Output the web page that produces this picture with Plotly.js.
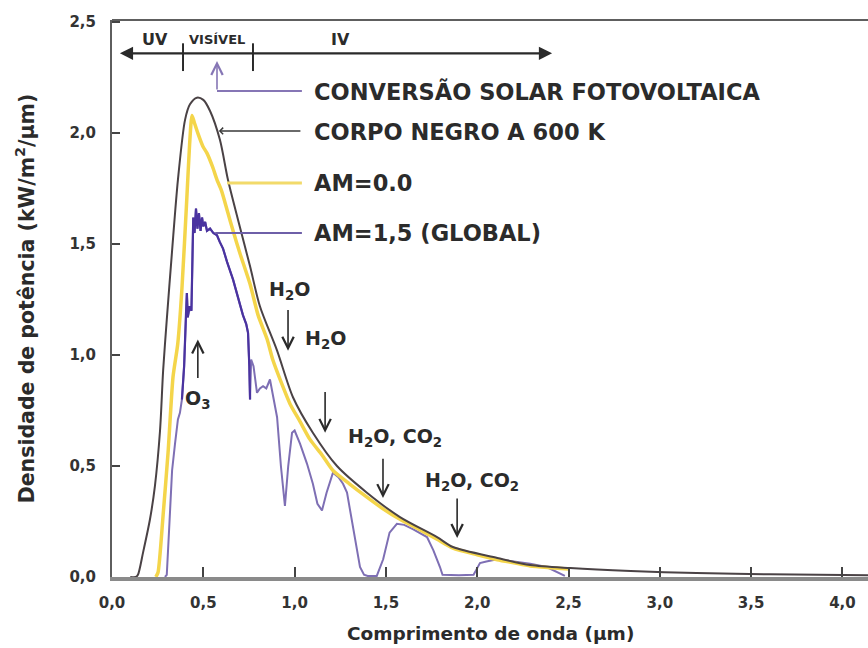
<!DOCTYPE html>
<html>
<head>
<meta charset="utf-8">
<script src="https://cdn.plot.ly/plotly-3.0.1.min.js"></script>
<style>
  html, body { margin: 0; padding: 0; background: #ffffff; }
  #chart { width: 868px; height: 648px; }
</style>
</head>
<body>
<div id="chart"></div>
<script>
// Espectro do corpo negro, AM0 e AM1,5 (kW/m²/µm) em função do comprimento de onda (µm)
const bbX = [0.10, 0.13, 0.142, 0.17, 0.208, 0.235, 0.263, 0.28, 0.30, 0.329, 0.361, 0.40, 0.427, 0.465, 0.50, 0.537, 0.591, 0.635, 0.69, 0.756, 0.81, 0.904, 0.991, 1.10, 1.232, 1.396, 1.577, 1.78, 1.867, 2.11, 2.29, 2.51, 2.84, 3.2, 3.6, 4.14];
const bbY = [0.0, 0.0, 0.01, 0.11, 0.26, 0.41, 0.66, 0.93, 1.16, 1.47, 1.79, 2.06, 2.13, 2.16, 2.15, 2.10, 1.97, 1.79, 1.61, 1.40, 1.22, 1.02, 0.81, 0.65, 0.50, 0.38, 0.27, 0.18, 0.135, 0.086, 0.054, 0.04, 0.027, 0.018, 0.012, 0.008];

const am0X = [0.24, 0.252, 0.28, 0.307, 0.334, 0.36, 0.383, 0.41, 0.425, 0.438, 0.45, 0.47, 0.498, 0.52, 0.55, 0.575, 0.60, 0.635, 0.663, 0.70, 0.756, 0.80, 0.85, 0.88, 0.93, 0.975, 1.03, 1.084, 1.15, 1.21, 1.30, 1.396, 1.48, 1.577, 1.68, 1.78, 1.867, 2.0, 2.11, 2.2, 2.29, 2.4, 2.5];
const am0Y = [0.0, 0.02, 0.28, 0.56, 0.90, 1.05, 1.30, 1.71, 1.95, 2.08, 2.05, 2.00, 1.94, 1.91, 1.85, 1.79, 1.74, 1.64, 1.56, 1.46, 1.32, 1.18, 1.07, 0.98, 0.87, 0.78, 0.70, 0.62, 0.55, 0.48, 0.42, 0.36, 0.31, 0.26, 0.215, 0.17, 0.13, 0.10, 0.078, 0.064, 0.05, 0.042, 0.036];

const am15X = [0.29, 0.30, 0.315, 0.329, 0.345, 0.361, 0.372, 0.383, 0.395, 0.405, 0.41, 0.415, 0.425, 0.435, 0.44, 0.445, 0.452, 0.46, 0.468, 0.476, 0.485, 0.493, 0.50, 0.51, 0.52, 0.537, 0.555, 0.575, 0.59, 0.608, 0.63, 0.663, 0.69, 0.717, 0.735, 0.745, 0.752, 0.756, 0.762, 0.775, 0.794, 0.81, 0.827, 0.845, 0.865, 0.885, 0.904, 0.925, 0.947, 0.965, 0.986, 1.0, 1.03, 1.068, 1.10, 1.125, 1.15, 1.175, 1.21, 1.24, 1.265, 1.287, 1.32, 1.358, 1.38, 1.40, 1.45, 1.485, 1.52, 1.56, 1.60, 1.65, 1.725, 1.76, 1.796, 1.81, 1.90, 1.98, 2.0, 2.015, 2.05, 2.11, 2.2, 2.29, 2.38, 2.44, 2.48];
const am15Y = [0.0, 0.01, 0.25, 0.48, 0.60, 0.71, 0.74, 0.80, 0.95, 1.18, 1.28, 1.17, 1.22, 1.20, 1.40, 1.62, 1.55, 1.66, 1.57, 1.64, 1.56, 1.62, 1.58, 1.60, 1.56, 1.57, 1.55, 1.54, 1.51, 1.48, 1.42, 1.34, 1.26, 1.18, 1.14, 1.10, 0.95, 0.80, 0.98, 0.95, 0.83, 0.85, 0.86, 0.85, 0.89, 0.80, 0.72, 0.50, 0.32, 0.50, 0.65, 0.66, 0.60, 0.51, 0.42, 0.33, 0.30, 0.38, 0.47, 0.45, 0.42, 0.38, 0.22, 0.045, 0.01, 0.005, 0.005, 0.08, 0.20, 0.24, 0.235, 0.215, 0.18, 0.12, 0.045, 0.01, 0.008, 0.01, 0.04, 0.063, 0.07, 0.08, 0.07, 0.06, 0.045, 0.02, 0.005];

// Eixos
const xTickVals = [0, 0.5, 1, 1.5, 2, 2.5, 3, 3.5, 4];
const xTickText = ['0,0', '0,5', '1,0', '1,5', '2,0', '2,5', '3,0', '3,5', '4,0'];
const yTickVals = [0, 0.5, 1, 1.5, 2, 2.5];
const yTickText = ['0,0', '0,5', '1,0', '1,5', '2,0', '2,5'];

// Trecho visível do AM1,5 desenhado em tom mais escuro
const darkIdx = am15X.map((v, i) => i).filter(i => am15X[i] >= 0.38 && am15X[i] <= 0.76);
const am15DarkX = darkIdx.map(i => am15X[i]);
const am15DarkY = darkIdx.map(i => am15Y[i]);

const FONT = 'DejaVu Sans, Arial, sans-serif';
const TXT = '#2b2b2b';

const traces = [
  { x: am15X, y: am15Y, mode: 'lines', line: { color: '#7e6fb4', width: 2 }, hoverinfo: 'skip' },
  { x: am15DarkX, y: am15DarkY, mode: 'lines', line: { color: '#4a33a0', width: 2.2 }, hoverinfo: 'skip' },
  { x: am0X, y: am0Y, mode: 'lines', line: { color: '#f4d54a', width: 3.5, shape: 'spline', smoothing: 0.6 }, hoverinfo: 'skip' },
  { x: bbX, y: bbY, mode: 'lines', line: { color: '#4a4245', width: 2, shape: 'spline', smoothing: 0.8 }, hoverinfo: 'skip' }
];

function label(text, x, y, size, anchor) {
  return { x: x, y: y, xref: 'x', yref: 'y', text: text, showarrow: false,
           xanchor: anchor || 'center', yanchor: 'middle',
           font: { family: FONT, size: size, color: TXT, weight: 'bold' } };
}
function arrow(x, yFrom, yTo, color) {
  return { x: x, y: yTo, ax: x, ay: yFrom, xref: 'x', yref: 'y', axref: 'x', ayref: 'y',
           text: '', showarrow: true, arrowhead: 5, arrowsize: 1.4, arrowwidth: 1.6,
           arrowcolor: color || '#2a2a2a' };
}

const annotations = [
  // Faixas do espectro
  label('UV', 0.235, 2.42, 16),
  label('VISÍVEL', 0.575, 2.42, 13),
  label('IV', 1.25, 2.42, 16),
  { x: 2.41, y: 2.36, ax: 0.035, ay: 2.36, xref: 'x', yref: 'y', axref: 'x', ayref: 'y',
    text: '', showarrow: true, arrowhead: 2, arrowside: 'end+start', arrowsize: 1.2,
    arrowwidth: 2.2, arrowcolor: '#2a2a2a' },
  // Legenda com indicadores
  arrow(0.575, 2.19, 2.325, '#8676b5'),
  label('CONVERSÃO SOLAR FOTOVOLTAICA', 1.095, 2.19, 22.5, 'left'),
  { x: 0.585, y: 2.01, ax: 1.04, ay: 2.01, xref: 'x', yref: 'y', axref: 'x', ayref: 'y',
    text: '', showarrow: true, arrowhead: 4, arrowsize: 0.8, arrowwidth: 1.6, arrowcolor: '#3a3a3a' },
  label('CORPO NEGRO A 600 K', 1.095, 2.005, 22.5, 'left'),
  label('AM=0.0', 1.095, 1.775, 22.5, 'left'),
  label('AM=1,5 (GLOBAL)', 1.095, 1.55, 22.5, 'left'),
  // Bandas de absorção
  label('H<sub>2</sub>O', 0.97, 1.29, 19),
  arrow(0.964, 1.21, 1.02),
  label('H<sub>2</sub>O', 1.17, 1.07, 19),
  arrow(1.167, 0.84, 0.65),
  label('H<sub>2</sub>O, CO<sub>2</sub>', 1.55, 0.63, 19),
  arrow(1.484, 0.54, 0.356),
  label('H<sub>2</sub>O, CO<sub>2</sub>', 1.97, 0.43, 19),
  arrow(1.89, 0.36, 0.176),
  label('O<sub>3</sub>', 0.466, 0.80, 19),
  arrow(0.47, 0.89, 1.07),
  // Títulos dos eixos
  { x: -0.114, y: 0.5, xref: 'paper', yref: 'paper', text: 'Densidade de potência (kW/m<sup>2</sup>/µm)',
    showarrow: false, textangle: -90, xanchor: 'center', yanchor: 'middle',
    font: { family: FONT, size: 20.5, color: TXT, weight: 'bold' } },
  { x: 0.5, y: -0.102, xref: 'paper', yref: 'paper', text: 'Comprimento de onda (µm)',
    showarrow: false, xanchor: 'center', yanchor: 'middle',
    font: { family: FONT, size: 18.5, color: TXT, weight: 'bold' } }
];

const shapes = [
  // moldura superior
  { type: 'line', xref: 'paper', yref: 'paper', x0: 0, x1: 1, y0: 1, y1: 1, line: { color: '#5e5e5e', width: 2 } },
  // marcas UV | VISÍVEL | IV
  { type: 'line', xref: 'x', yref: 'y', x0: 0.389, x1: 0.389, y0: 2.28, y1: 2.405, line: { color: '#2a2a2a', width: 2 } },
  { type: 'line', xref: 'x', yref: 'y', x0: 0.772, x1: 0.772, y0: 2.28, y1: 2.405, line: { color: '#2a2a2a', width: 2 } },
  // linhas da legenda
  { type: 'line', xref: 'x', yref: 'y', x0: 0.575, x1: 1.04, y0: 2.19, y1: 2.19, line: { color: '#8676b5', width: 2 } },
  { type: 'line', xref: 'x', yref: 'y', x0: 0.63, x1: 1.04, y0: 1.775, y1: 1.775, line: { color: '#f2da6a', width: 3 } },
  { type: 'line', xref: 'x', yref: 'y', x0: 0.565, x1: 1.04, y0: 1.55, y1: 1.55, line: { color: '#6e5fa8', width: 2 } }
];

const layout = {
  width: 868, height: 648,
  margin: { l: 112, r: 0, t: 20, b: 71 },
  paper_bgcolor: '#ffffff', plot_bgcolor: '#ffffff',
  showlegend: false,
  xaxis: {
    range: [0, 4.14], tickvals: xTickVals, ticktext: xTickText,
    showgrid: false, zeroline: false, showline: true, linecolor: '#8a8a8a', linewidth: 4,
    ticks: 'inside', ticklen: 10, tickwidth: 2, tickcolor: '#444',
    ticklabelstandoff: 9,
    tickfont: { family: FONT, size: 15, color: '#333', weight: 'bold' }
  },
  yaxis: {
    range: [0, 2.51], tickvals: yTickVals, ticktext: yTickText,
    showgrid: false, zeroline: false, showline: true, linecolor: '#5e5e5e', linewidth: 2,
    ticks: 'inside', ticklen: 8, tickwidth: 2, tickcolor: '#444',
    ticklabelstandoff: 11,
    tickfont: { family: FONT, size: 15, color: '#333', weight: 'bold' }
  },
  annotations: annotations,
  shapes: shapes
};

Plotly.newPlot('chart', traces, layout, { staticPlot: true, displayModeBar: false });
</script>
</body>
</html>
